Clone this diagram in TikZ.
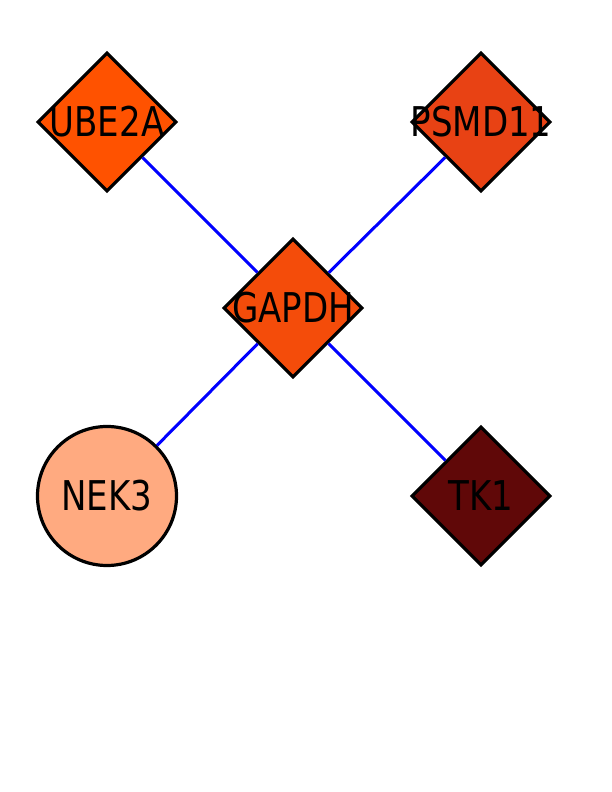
\documentclass[tikz,border=0pt]{standalone}
\usepackage{fontspec}
\setmainfont{DejaVu Sans}[FakeStretch=0.83]
\usetikzlibrary{shapes.geometric}
\definecolor{cUBE}{RGB}{255,82,0}
\definecolor{cPSM}{RGB}{232,66,20}
\definecolor{cGAP}{RGB}{244,76,10}
\definecolor{cNEK}{RGB}{255,170,128}
\definecolor{cTK}{RGB}{96,8,8}
\definecolor{edgeblue}{RGB}{0,0,255}
\tikzset{
  gene/.style={draw=black, line width=3.2pt, inner sep=0pt},
  dia/.style={gene, diamond, aspect=1, minimum width=139pt, minimum height=139pt},
  circ/.style={gene, circle, minimum size=139pt},
  lbl/.style={font=\fontsize{41}{44}\selectfont, text=black, inner sep=0pt},
  edge/.style={draw=edgeblue, line width=3pt}
}
\begin{document}
\begin{tikzpicture}[x=1pt,y=1pt]
\useasboundingbox (0,0) rectangle (612,792);
\node[dia, fill=cUBE] (ube) at (107,670) {};
\node[dia, fill=cPSM] (psm) at (481,670) {};
\node[dia, fill=cGAP] (gap) at (293,484) {};
\node[circ, fill=cNEK] (nek) at (107,296) {};
\node[dia, fill=cTK] (tk) at (481,296) {};
\draw[edge] (ube) -- (gap);
\draw[edge] (psm) -- (gap);
\draw[edge] (nek) -- (gap);
\draw[edge] (tk) -- (gap);
\node[lbl] at (ube) {UBE2A};
\node[lbl] at (psm) {PSMD11};
\node[lbl] at (gap) {GAPDH};
\node[lbl] at (nek) {NEK3};
\node[lbl] at (tk) {TK1};
\end{tikzpicture}
\end{document}
